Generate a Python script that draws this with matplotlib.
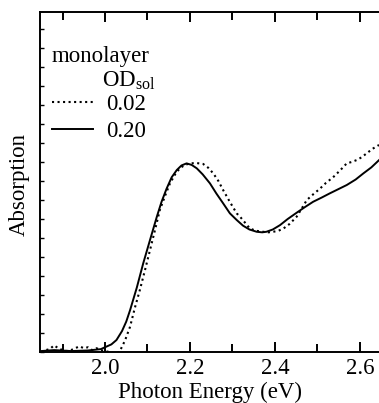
import matplotlib
matplotlib.use("Agg")
import matplotlib.pyplot as plt
from matplotlib.ticker import MultipleLocator, NullFormatter

plt.rcParams['font.family'] = ['Liberation Serif', 'DejaVu Serif']
plt.rcParams['mathtext.fontset'] = 'custom'
plt.rcParams['mathtext.rm'] = 'Liberation Serif'

# Solid curve (OD_sol = 0.20)
energy_020 = [1.85, 1.88, 1.92, 1.96, 1.99, 2.0, 2.015, 2.027, 2.04, 2.05, 2.059,
              2.075, 2.09, 2.106, 2.122, 2.133, 2.145, 2.157, 2.169, 2.18, 2.192,
              2.204, 2.216, 2.23, 2.247, 2.262, 2.278, 2.294, 2.31, 2.325, 2.34,
              2.357, 2.37, 2.38, 2.395, 2.412, 2.43, 2.451, 2.47, 2.49, 2.51,
              2.529, 2.549, 2.569, 2.59, 2.608, 2.627, 2.645]
abs_020 = [0.05, 0.1, 0.05, 0.08, 0.15, 0.25, 0.4, 0.63, 1.1, 1.6, 2.2,
           3.4, 4.67, 5.9, 7.12, 7.9, 8.6, 9.2, 9.58, 9.82, 9.93,
           9.85, 9.67, 9.35, 8.88, 8.35, 7.83, 7.3, 6.95, 6.65, 6.45,
           6.33, 6.3, 6.33, 6.45, 6.68, 7.0, 7.33, 7.62, 7.91, 8.13,
           8.35, 8.57, 8.79, 9.08, 9.4, 9.72, 10.1]

# Dotted curve (OD_sol = 0.02)
energy_002 = [1.85, 1.86, 1.87, 1.88, 1.89, 1.90, 1.91, 1.92, 1.93, 1.94, 1.95,
              1.96, 1.97, 1.98, 1.99, 2.0, 2.01, 2.02, 2.03, 2.035, 2.047, 2.059,
              2.07, 2.082, 2.094, 2.106, 2.118, 2.129, 2.141, 2.153, 2.165, 2.176,
              2.188, 2.2, 2.215, 2.231, 2.243, 2.255, 2.267, 2.278, 2.294, 2.31,
              2.318, 2.33, 2.341, 2.356, 2.372, 2.385, 2.396, 2.408, 2.42, 2.435,
              2.451, 2.463, 2.475, 2.49, 2.506, 2.52, 2.537, 2.553, 2.569, 2.58,
              2.592, 2.604, 2.616, 2.63, 2.645]
abs_002 = [0.0, 0.1, 0.15, 0.35, 0.2, 0.1, 0.05, 0.1, 0.2, 0.3, 0.2,
           0.25, 0.1, 0.2, 0.1, 0.05, 0.0, -0.05, -0.05, 0.05, 0.6, 1.33,
           2.3, 3.26, 4.3, 5.37, 6.45, 7.47, 8.2, 8.88, 9.35, 9.67,
           9.85, 9.93, 9.95, 9.9, 9.7, 9.4, 9.0, 8.53, 7.9, 7.3,
           7.12, 6.8, 6.5, 6.38, 6.33, 6.3, 6.33, 6.38, 6.5, 6.75,
           7.12, 7.55, 8.0, 8.3, 8.6, 8.9, 9.2, 9.55, 9.93, 10.0,
           10.1, 10.25, 10.46, 10.7, 10.9]

fig = plt.figure(figsize=(3.79, 4.03), dpi=100)
ax = fig.add_axes([40 / 379, 51 / 403, 339 / 379, 340 / 403])

ax.plot(energy_002, abs_002, color='black', lw=1.5, ls=':', label='0.02')
ax.plot(energy_020, abs_020, color='black', lw=1.4, ls='-', label='0.20')

ax.set_xlim(1.847, 2.645)
ax.set_ylim(0, 17.9)

ax.xaxis.set_major_locator(MultipleLocator(0.2))
ax.xaxis.set_minor_locator(MultipleLocator(0.1))
ax.xaxis.set_major_formatter(plt.FormatStrFormatter('%.1f'))
ax.yaxis.set_major_locator(MultipleLocator(1))
ax.yaxis.set_major_formatter(NullFormatter())

ax.xaxis.set_ticks_position('both')
ax.tick_params(axis='x', which='both', direction='in', labelsize=16.5,
               width=1.4, pad=4.5)
ax.tick_params(axis='x', which='major', length=7)
ax.tick_params(axis='x', which='minor', length=6)
ax.tick_params(axis='y', which='both', direction='in', length=3, width=1.0)

ax.spines['right'].set_visible(False)
for s in ['left', 'top', 'bottom']:
    ax.spines[s].set_linewidth(1.4)

ax.set_xlabel('Photon Energy (eV)', fontsize=16.5, labelpad=2)
fig.text(19 / 379, 1 - 184 / 403, 'Absorption', rotation=90, fontsize=16.5,
         ha='center', va='center')

ax.text(0.035, 0.853, 'monolayer', transform=ax.transAxes, fontsize=16.5,
        ha='left', va='baseline')
ax.text(0.183, 0.782, r'$\mathrm{OD}_{\mathrm{sol}}$', transform=ax.transAxes,
        fontsize=16.5, ha='left', va='baseline')
ax.legend(loc='upper left', bbox_to_anchor=(0.035, 0.759), frameon=False,
          fontsize=16.5, borderpad=0, borderaxespad=0, handlelength=1.8,
          handletextpad=0.55, labelspacing=0.25)

fig.savefig('out.png', dpi=100)
